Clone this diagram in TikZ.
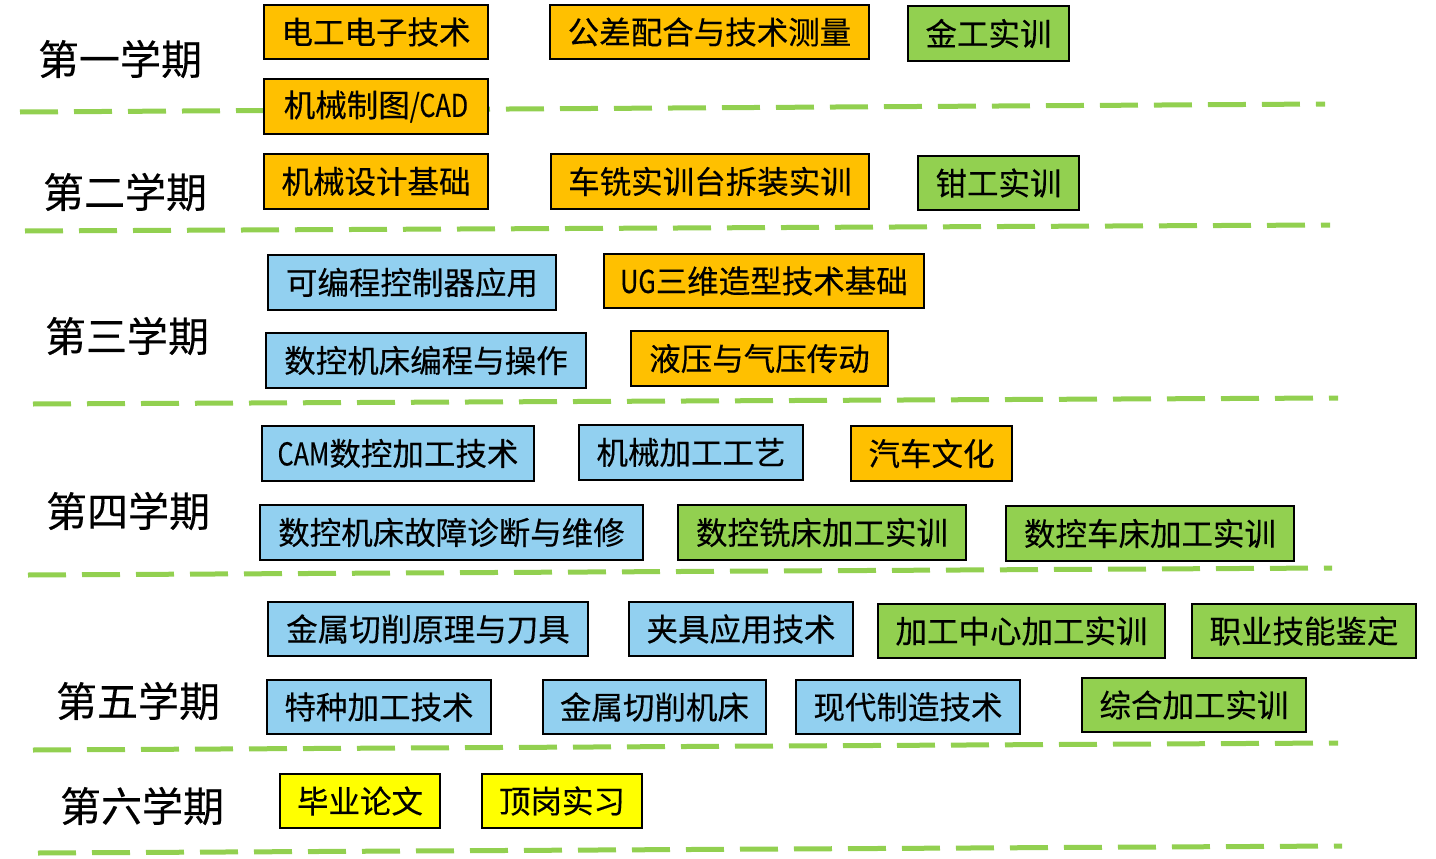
\documentclass[tikz,border=0pt]{standalone}
\usepackage{graphicx}
\usepackage{fontspec}
\setmainfont{Noto Sans CJK SC}[FakeBold=0.3]
\newcommand\narrow[1]{\scalebox{0.8}[1]{#1}}
\definecolor{orgc}{HTML}{FFC000}
\definecolor{grnc}{HTML}{92D050}
\definecolor{bluc}{HTML}{92D0F0}
\definecolor{yelc}{HTML}{FFFF00}
\definecolor{linec}{HTML}{92D050}
\newcommand\course[7]{\node[#1, minimum width={#4-#2}, minimum height={#5-#3}] (#6) at ({(#2+#4)/2},{(#3+#5)/2+1}) {#7};}
\tikzset{
  box/.style={draw=black, line width=2pt, inner sep=0pt, anchor=center, font=\fontsize{31.5}{31.5}\selectfont},
  org/.style={box, fill=orgc},
  grn/.style={box, fill=grnc},
  blu/.style={box, fill=bluc},
  yel/.style={box, fill=yelc},
  sem/.style={inner sep=0pt, anchor=center, font=\fontsize{41}{41}\selectfont},
  divider/.style={draw=linec, line width=5pt, dash pattern=on 38pt off 16pt}
}
\begin{document}
\begin{tikzpicture}[x=1pt,y=-1pt]
\useasboundingbox[fill=white] (0,0) rectangle (1436,859);
% divider lines
\coordinate (a1) at (20,112);  \coordinate (b1) at (1325,104);
\coordinate (a2) at (25,231);  \coordinate (b2) at (1330,225);
\coordinate (a3) at (33,404);  \coordinate (b3) at (1338,398);
\coordinate (a4) at (28,575);  \coordinate (b4) at (1332,568);
\coordinate (a5) at (33,750);  \coordinate (b5) at (1338,743);
\coordinate (a6) at (38,853);  \coordinate (b6) at (1342,846);
\foreach \i in {1,...,6} { \draw[divider] (a\i) -- (b\i); }
% semester labels
\node[sem] (s1) at (120,59) {第一学期};
\node[sem] (s2) at (125,192) {第二学期};
\node[sem] (s3) at (127,336) {第三学期};
\node[sem] (s4) at (128,511) {第四学期};
\node[sem] (s5) at (138,701) {第五学期};
\node[sem] (s6) at (142,806) {第六学期};
% semester 1
\course{org}{264}{4}{488}{58}{c11}{电工电子技术}
\course{org}{550}{4}{869}{58}{c12}{公差配合与技术测量}
\course{grn}{908}{5}{1069}{60}{c13}{金工实训}
\course{org}{264}{78}{488}{133}{c14}{机械制图\narrow{/CAD}}
% semester 2
\course{org}{264}{153}{488}{208}{c21}{机械设计基础}
\course{org}{551}{153}{869}{208}{c22}{车铣实训台拆装实训}
\course{grn}{918}{155}{1079}{209}{c23}{钳工实训}
% semester 3
\course{blu}{268}{254}{556}{309}{c31}{可编程控制器应用}
\course{org}{604}{253}{924}{307}{c32}{\narrow{UG}三维造型技术基础}
\course{blu}{266}{332}{586}{387}{c33}{数控机床编程与操作}
\course{org}{631}{330}{888}{385}{c34}{液压与气压传动}
% semester 4
\course{blu}{262}{425}{534}{480}{c41}{\narrow{CAM}数控加工技术}
\course{blu}{579}{424}{803}{479}{c42}{机械加工工艺}
\course{org}{851}{425}{1012}{480}{c43}{汽车文化}
\course{blu}{260}{504}{643}{559}{c44}{数控机床故障诊断与维修}
\course{grn}{678}{504}{966}{559}{c45}{数控铣床加工实训}
\course{grn}{1006}{505}{1294}{560}{c46}{数控车床加工实训}
% semester 5
\course{blu}{268}{601}{588}{655}{c51}{金属切削原理与刀具}
\course{blu}{629}{601}{853}{655}{c52}{夹具应用技术}
\course{grn}{878}{603}{1165}{657}{c53}{加工中心加工实训}
\course{grn}{1192}{603}{1416}{657}{c54}{职业技能鉴定}
\course{blu}{267}{679}{491}{733}{c55}{特种加工技术}
\course{blu}{543}{679}{766}{733}{c56}{金属切削机床}
\course{blu}{796}{679}{1020}{733}{c57}{现代制造技术}
\course{grn}{1082}{677}{1306}{731}{c58}{综合加工实训}
% semester 6
\course{yel}{280}{773}{440}{827}{c61}{毕业论文}
\course{yel}{482}{773}{642}{827}{c62}{顶岗实习}
\end{tikzpicture}
\end{document}
